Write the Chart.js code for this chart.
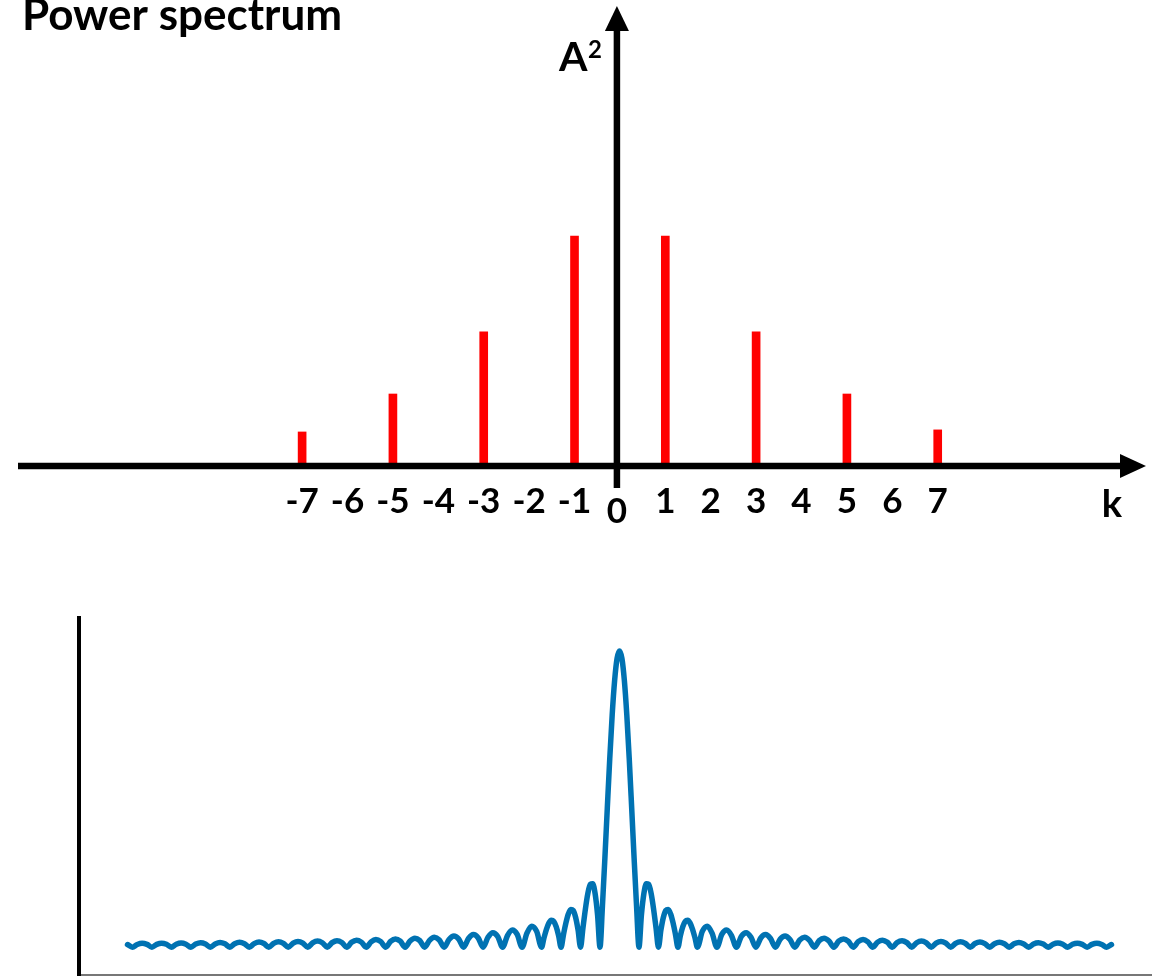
<!DOCTYPE html>
<html>
<head>
<meta charset="utf-8">
<script src="https://cdn.jsdelivr.net/npm/chart.js@4.4.1/dist/chart.umd.min.js"></script>
<style>
  body { margin: 0; background: #fff; }
  #top { position: absolute; left: 0; top: 0; }
  #bottom { position: absolute; left: 0; top: 600px; }
</style>
</head>
<body>
<canvas id="top" width="1152" height="560"></canvas>
<canvas id="bottom" width="1152" height="377"></canvas>
<script>
// --- power spectrum (top) ---
const kTickLabels = ['-7', '-6', '-5', '-4', '-3', '-2', '-1', '1', '2', '3', '4', '5', '6', '7'];
const barK = [-7, -5, -3, -1, 1, 3, 5, 7];
const barPower = [0.148, 0.313, 0.583, 1, 1, 0.583, 0.313, 0.157];

// --- |amplitude| curve (bottom) ---
const curveK = [
  -25.25, -25, -24.75, -24.5, -24.25, -24, -23.75, -23.5, -23.25, -23,
  -22.75, -22.5, -22.25, -22, -21.75, -21.5, -21.25, -21, -20.75, -20.5,
  -20.25, -20, -19.75, -19.5, -19.25, -19, -18.75, -18.5, -18.25, -18,
  -17.75, -17.5, -17.25, -17, -16.75, -16.5, -16.25, -16, -15.75, -15.5,
  -15.25, -15, -14.75, -14.5, -14.25, -14, -13.75, -13.5, -13.25, -13,
  -12.75, -12.5, -12.25, -12, -11.75, -11.5, -11.25, -11, -10.75, -10.5,
  -10.25, -10, -9.75, -9.5, -9.25, -9, -8.75, -8.5, -8.25, -8,
  -7.75, -7.5, -7.25, -7, -6.75, -6.5, -6.25, -6, -5.75, -5.5,
  -5.25, -5, -4.75, -4.5, -4.25, -4,
  -3.875, -3.75, -3.625, -3.5, -3.375, -3.25, -3.125, -3,
  -2.875, -2.75, -2.625, -2.5, -2.375, -2.25, -2.125, -2,
  -1.875, -1.75, -1.625, -1.5, -1.375, -1.25, -1.125, -1,
  -0.875, -0.75, -0.625, -0.5, -0.375, -0.25, -0.125, 0,
  0.125, 0.25, 0.375, 0.5, 0.625, 0.75, 0.875, 1,
  1.125, 1.25, 1.375, 1.5, 1.625, 1.75, 1.875, 2,
  2.125, 2.25, 2.375, 2.5, 2.625, 2.75, 2.875, 3,
  3.125, 3.25, 3.375, 3.5, 3.625, 3.75, 3.875, 4,
  4.25, 4.5, 4.75, 5, 5.25, 5.5, 5.75, 6, 6.25, 6.5,
  6.75, 7, 7.25, 7.5, 7.75, 8, 8.25, 8.5, 8.75, 9,
  9.25, 9.5, 9.75, 10, 10.25, 10.5, 10.75, 11, 11.25, 11.5,
  11.75, 12, 12.25, 12.5, 12.75, 13, 13.25, 13.5, 13.75, 14,
  14.25, 14.5, 14.75, 15, 15.25, 15.5, 15.75, 16, 16.25, 16.5,
  16.75, 17, 17.25, 17.5, 17.75, 18, 18.25, 18.5, 18.75, 19,
  19.25, 19.5, 19.75, 20, 20.25, 20.5, 20.75, 21, 21.25, 21.5,
  21.75, 22, 22.25, 22.5, 22.75, 23, 23.25, 23.5, 23.75, 24,
  24.25, 24.5, 24.75, 25, 25.25
];
const curveAmp = [
  0.0089, 0, 0.0091, 0.0130, 0.0093, 0, 0.0095, 0.0135, 0.0097, 0,
  0.0099, 0.0141, 0.0101, 0, 0.0103, 0.0148, 0.0106, 0, 0.0108, 0.0155,
  0.0111, 0, 0.0114, 0.0163, 0.0117, 0, 0.0120, 0.0172, 0.0123, 0,
  0.0127, 0.0182, 0.0130, 0, 0.0134, 0.0193, 0.0139, 0, 0.0143, 0.0205,
  0.0148, 0, 0.0153, 0.0220, 0.0158, 0, 0.0164, 0.0236, 0.0170, 0,
  0.0177, 0.0255, 0.0184, 0, 0.0192, 0.0277, 0.0200, 0, 0.0209, 0.0303,
  0.0220, 0, 0.0231, 0.0335, 0.0243, 0, 0.0257, 0.0374, 0.0273, 0,
  0.0290, 0.0424, 0.0310, 0, 0.0333, 0.0490, 0.0360, 0, 0.0391, 0.0579,
  0.0429, 0, 0.0474, 0.0707, 0.0530, 0,
  0.0314, 0.0600, 0.0811, 0.0909, 0.0871, 0.0693, 0.0390, 0,
  0.0424, 0.0818, 0.1120, 0.1273, 0.1238, 0.1000, 0.0573, 0,
  0.0650, 0.1286, 0.1810, 0.2122, 0.2139, 0.1801, 0.1083, 0,
  0.1392, 0.3001, 0.4705, 0.6366, 0.7842, 0.9003, 0.9745, 1,
  0.9745, 0.9003, 0.7842, 0.6366, 0.4705, 0.3001, 0.1392, 0,
  0.1083, 0.1801, 0.2139, 0.2122, 0.1810, 0.1286, 0.0650, 0,
  0.0573, 0.1000, 0.1238, 0.1273, 0.1120, 0.0818, 0.0424, 0,
  0.0390, 0.0693, 0.0871, 0.0909, 0.0811, 0.0600, 0.0314, 0,
  0.0530, 0.0707, 0.0474, 0, 0.0429, 0.0579, 0.0391, 0, 0.0360, 0.0490,
  0.0333, 0, 0.0310, 0.0424, 0.0290, 0, 0.0273, 0.0374, 0.0257, 0,
  0.0243, 0.0335, 0.0231, 0, 0.0220, 0.0303, 0.0209, 0, 0.0200, 0.0277,
  0.0192, 0, 0.0184, 0.0255, 0.0177, 0, 0.0170, 0.0236, 0.0164, 0,
  0.0158, 0.0220, 0.0153, 0, 0.0148, 0.0205, 0.0143, 0, 0.0139, 0.0193,
  0.0134, 0, 0.0130, 0.0182, 0.0127, 0, 0.0123, 0.0172, 0.0120, 0,
  0.0117, 0.0163, 0.0114, 0, 0.0111, 0.0155, 0.0108, 0, 0.0106, 0.0148,
  0.0103, 0, 0.0101, 0.0141, 0.0099, 0, 0.0097, 0.0135, 0.0095, 0,
  0.0093, 0.0130, 0.0091, 0, 0.0089
];

Chart.defaults.font.family = 'Lato, "Open Sans", sans-serif';
Chart.defaults.color = '#000';

// draws the arrow axes and the loose labels of the top panel
const arrowAxes = {
  id: 'arrowAxes',
  afterDatasetsDraw(chart) {
    const { ctx, scales: { x, y } } = chart;
    const y0 = y.getPixelForValue(0);
    const x0 = x.getPixelForValue(0) - 3;
    ctx.save();
    ctx.strokeStyle = '#000';
    ctx.fillStyle = '#000';
    ctx.lineWidth = 6.5;

    // horizontal axis + arrow
    ctx.beginPath();
    ctx.moveTo(18, y0);
    ctx.lineTo(1124, y0);
    ctx.stroke();
    ctx.beginPath();
    ctx.moveTo(1146, y0);
    ctx.lineTo(1120, y0 - 12);
    ctx.lineTo(1120, y0 + 12);
    ctx.closePath();
    ctx.fill();

    // vertical axis + arrow
    ctx.beginPath();
    ctx.moveTo(x0, y0 + 22);
    ctx.lineTo(x0, 28);
    ctx.stroke();
    ctx.beginPath();
    ctx.moveTo(x0, 6);
    ctx.lineTo(x0 - 12, 31);
    ctx.lineTo(x0 + 12, 31);
    ctx.closePath();
    ctx.fill();

    ctx.font = 'bold 35px Lato';
    ctx.textAlign = 'center';
    ctx.textBaseline = 'alphabetic';
    ctx.fillText('0', x0, y0 + 57);
    ctx.font = 'bold 38px Lato';
    ctx.fillText('k', 1112, y0 + 51);

    ctx.textAlign = 'left';
    ctx.font = 'bold 41px Lato';
    ctx.fillText('A', x0 - 58, 71);
    ctx.font = 'bold 24px Lato';
    ctx.fillText('2', x0 - 29, 58);
    ctx.restore();
  }
};

new Chart(document.getElementById('top'), {
  type: 'bar',
  data: {
    datasets: [{
      data: barK.map((k, i) => ({ x: k, y: barPower[i] })),
      backgroundColor: '#ff0000',
      barThickness: 8
    }]
  },
  options: {
    responsive: false,
    animation: false,
    layout: { padding: { left: 22, right: 0, top: 0, bottom: 0 } },
    plugins: {
      legend: { display: false },
      tooltip: { enabled: false },
      title: {
        display: true,
        text: 'Power spectrum',
        align: 'start',
        color: '#000',
        font: { size: 44, weight: 'bold', lineHeight: 1 },
        padding: { top: -6, bottom: -4 }
      }
    },
    scales: {
      x: {
        type: 'linear',
        offset: false,
        min: -13.17,
        max: 11.72,
        grid: { display: false, drawTicks: false, offset: false },
        border: { display: false },
        afterFit: (s) => {
          s.height = 94;
          s.paddingLeft = 0;
          s.paddingRight = 0;
        },
        ticks: {
          stepSize: 1,
          autoSkip: false,
          maxRotation: 0,
          includeBounds: false,
          padding: 15,
          font: { size: 35, weight: 'bold' },
          callback: (v) => kTickLabels.includes(String(v)) ? String(v) : ''
        }
      },
      y: { display: false, min: 0, max: 1.878 }
    }
  },
  plugins: [arrowAxes]
});

new Chart(document.getElementById('bottom'), {
  type: 'line',
  data: {
    datasets: [{
      data: curveK.map((k, i) => ({ x: k, y: curveAmp[i] })),
      borderColor: '#0072b2',
      borderWidth: 5.5,
      borderJoinStyle: 'round',
      borderCapStyle: 'round',
      cubicInterpolationMode: 'monotone',
      pointRadius: 0,
      fill: false
    }]
  },
  options: {
    responsive: false,
    animation: false,
    layout: { padding: { left: 79, right: 0, top: 18, bottom: 2 } },
    plugins: { legend: { display: false }, tooltip: { enabled: false } },
    scales: {
      x: {
        type: 'linear',
        min: -27.74,
        max: 27.33,
        grid: { display: false, drawTicks: false },
        ticks: { display: false },
        border: { color: '#777', width: 2 }
      },
      y: {
        min: -0.094,
        max: 1.111,
        grid: { display: false, drawTicks: false },
        ticks: { display: false },
        border: { color: '#000', width: 4 }
      }
    }
  }
});
</script>
</body>
</html>
